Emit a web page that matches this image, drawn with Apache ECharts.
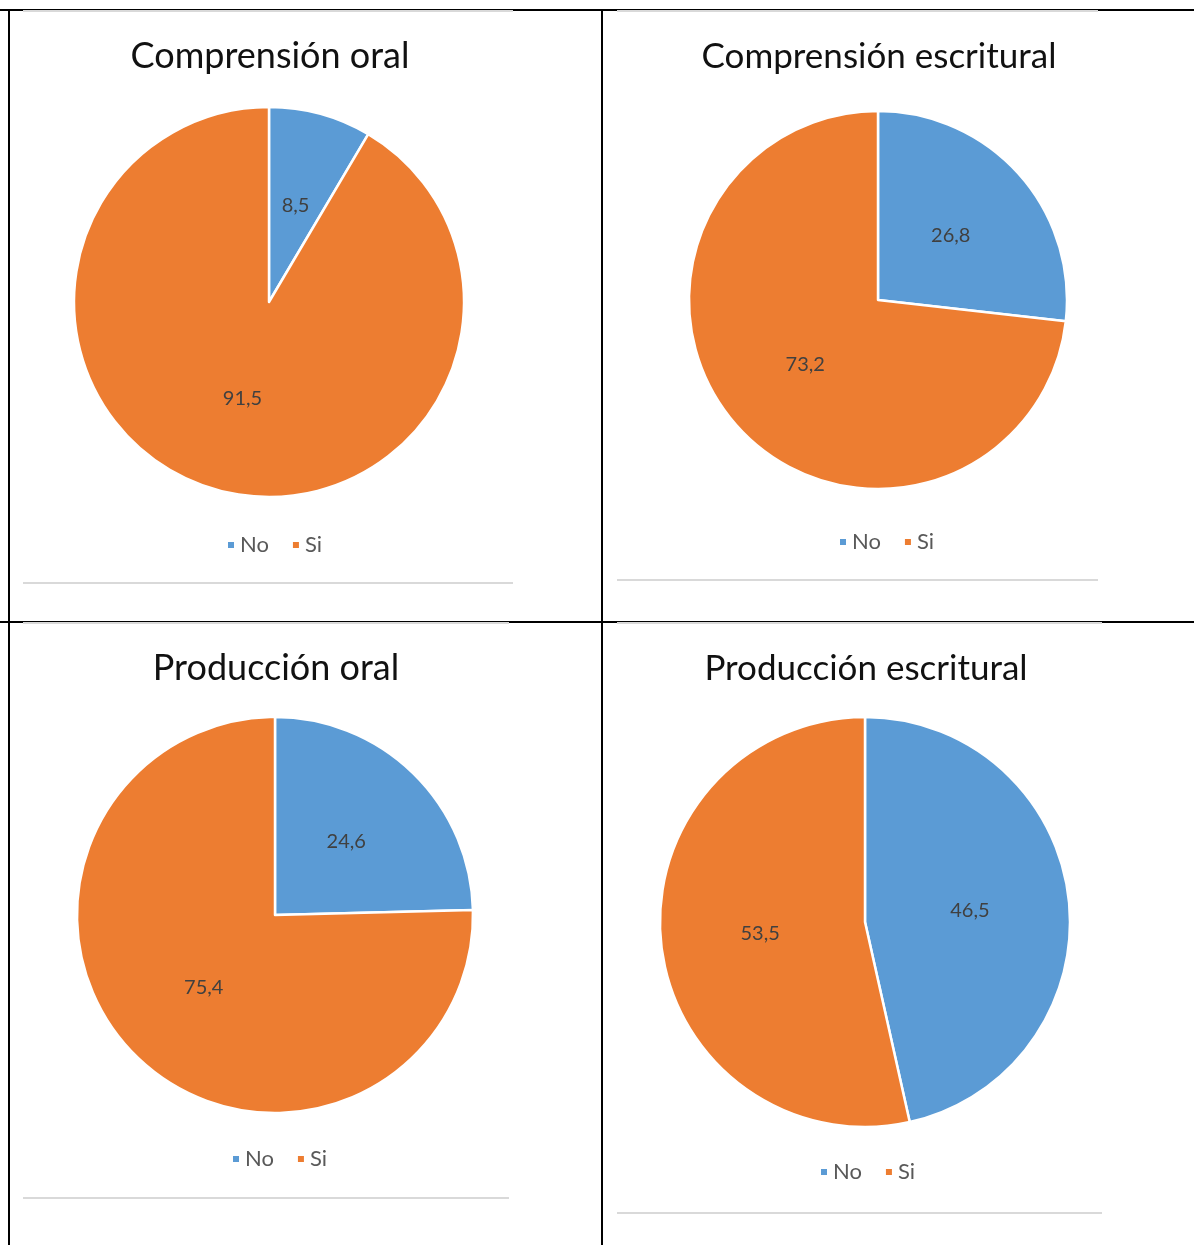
<!DOCTYPE html>
<html><head><meta charset="utf-8">
<script src="https://cdn.jsdelivr.net/npm/echarts@6/dist/echarts.min.js"></script>
<style>html,body{margin:0;padding:0;background:#fff}#c{width:1194px;height:1245px}</style>
</head><body><div id="c"></div>
<script>
const categories = ['No', 'Si'];
const titles = ['Comprensión oral', 'Comprensión escritural', 'Producción oral', 'Producción escritural'];
const noValues = [8.5, 26.8, 24.6, 46.5];
const siValues = [91.5, 73.2, 75.4, 53.5];

const colors = ['#5B9BD5', '#ED7D31'];
const FONT = 'Lato';
// layout per panel
const panels = [
  {cx: 269, cy: 302, r: 195, tx: 265, ty: 33, ly: 529, lx: 221, fs: 36},
  {cx: 878, cy: 300, r: 189, tx: 874, ty: 34, ly: 526, lx: 833, fs: 35},
  {cx: 275, cy: 915, r: 198, tx: 271, ty: 645, ly: 1143, lx: 226, fs: 36},
  {cx: 865, cy: 922, r: 205, tx: 861, ty: 646, ly: 1156, lx: 814, fs: 35}
];

const series = [], title = [], legend = [];
panels.forEach((p, i) => {
  title.push({text: titles[i], left: p.tx, top: p.ty, textAlign: 'center',
    textStyle: {fontFamily: FONT, fontSize: p.fs, fontWeight: 'normal', color: '#111'}});
  legend.push({data: categories, left: p.lx, top: p.ly, orient: 'horizontal',
    itemWidth: 8, itemHeight: 8, icon: 'rect', itemGap: 22,
    textStyle: {fontFamily: FONT, fontSize: 22, color: '#595959'}});
  series.push({
    type: 'pie', center: [p.cx, p.cy], radius: [0, p.r], startAngle: 90, clockwise: true,
    animation: false, silent: true,
    itemStyle: {borderColor: '#fff', borderWidth: 2.5},
    label: {show: true, position: 'inside', fontFamily: FONT, fontSize: 20, color: '#404040',
      formatter: d => String(d.value).replace('.', ',')},
    labelLine: {show: false},
    data: categories.map((c, k) => ({name: c, value: k === 0 ? noValues[i] : siValues[i],
      itemStyle: {color: colors[k]}}))
  });
});

function line(x1, y1, x2, y2, color, w) {
  return {type: 'line', shape: {x1, y1, x2, y2}, style: {stroke: color, lineWidth: w}, silent: true};
}
const graphic = [
  line(0, 10, 1194, 10, '#000', 2),
  line(0, 622, 1194, 622, '#000', 2),
  line(9, 10, 9, 1245, '#000', 2),
  line(602, 10, 602, 1245, '#000', 2),
  line(23, 11, 513, 11, '#d9d9d9', 2),
  line(617, 11, 1098, 11, '#d9d9d9', 2),
  line(23, 583, 513, 583, '#d9d9d9', 2),
  line(617, 580, 1098, 580, '#d9d9d9', 2),
  line(23, 623, 509, 623, '#d9d9d9', 2),
  line(617, 623, 1102, 623, '#d9d9d9', 2),
  line(23, 1198, 509, 1198, '#d9d9d9', 2),
  line(617, 1213, 1102, 1213, '#d9d9d9', 2)
];

const chart = echarts.init(document.getElementById('c'), null, {renderer: 'canvas'});
chart.setOption({animation: false, backgroundColor: '#fff', title, legend, series, graphic});
</script></body></html>
